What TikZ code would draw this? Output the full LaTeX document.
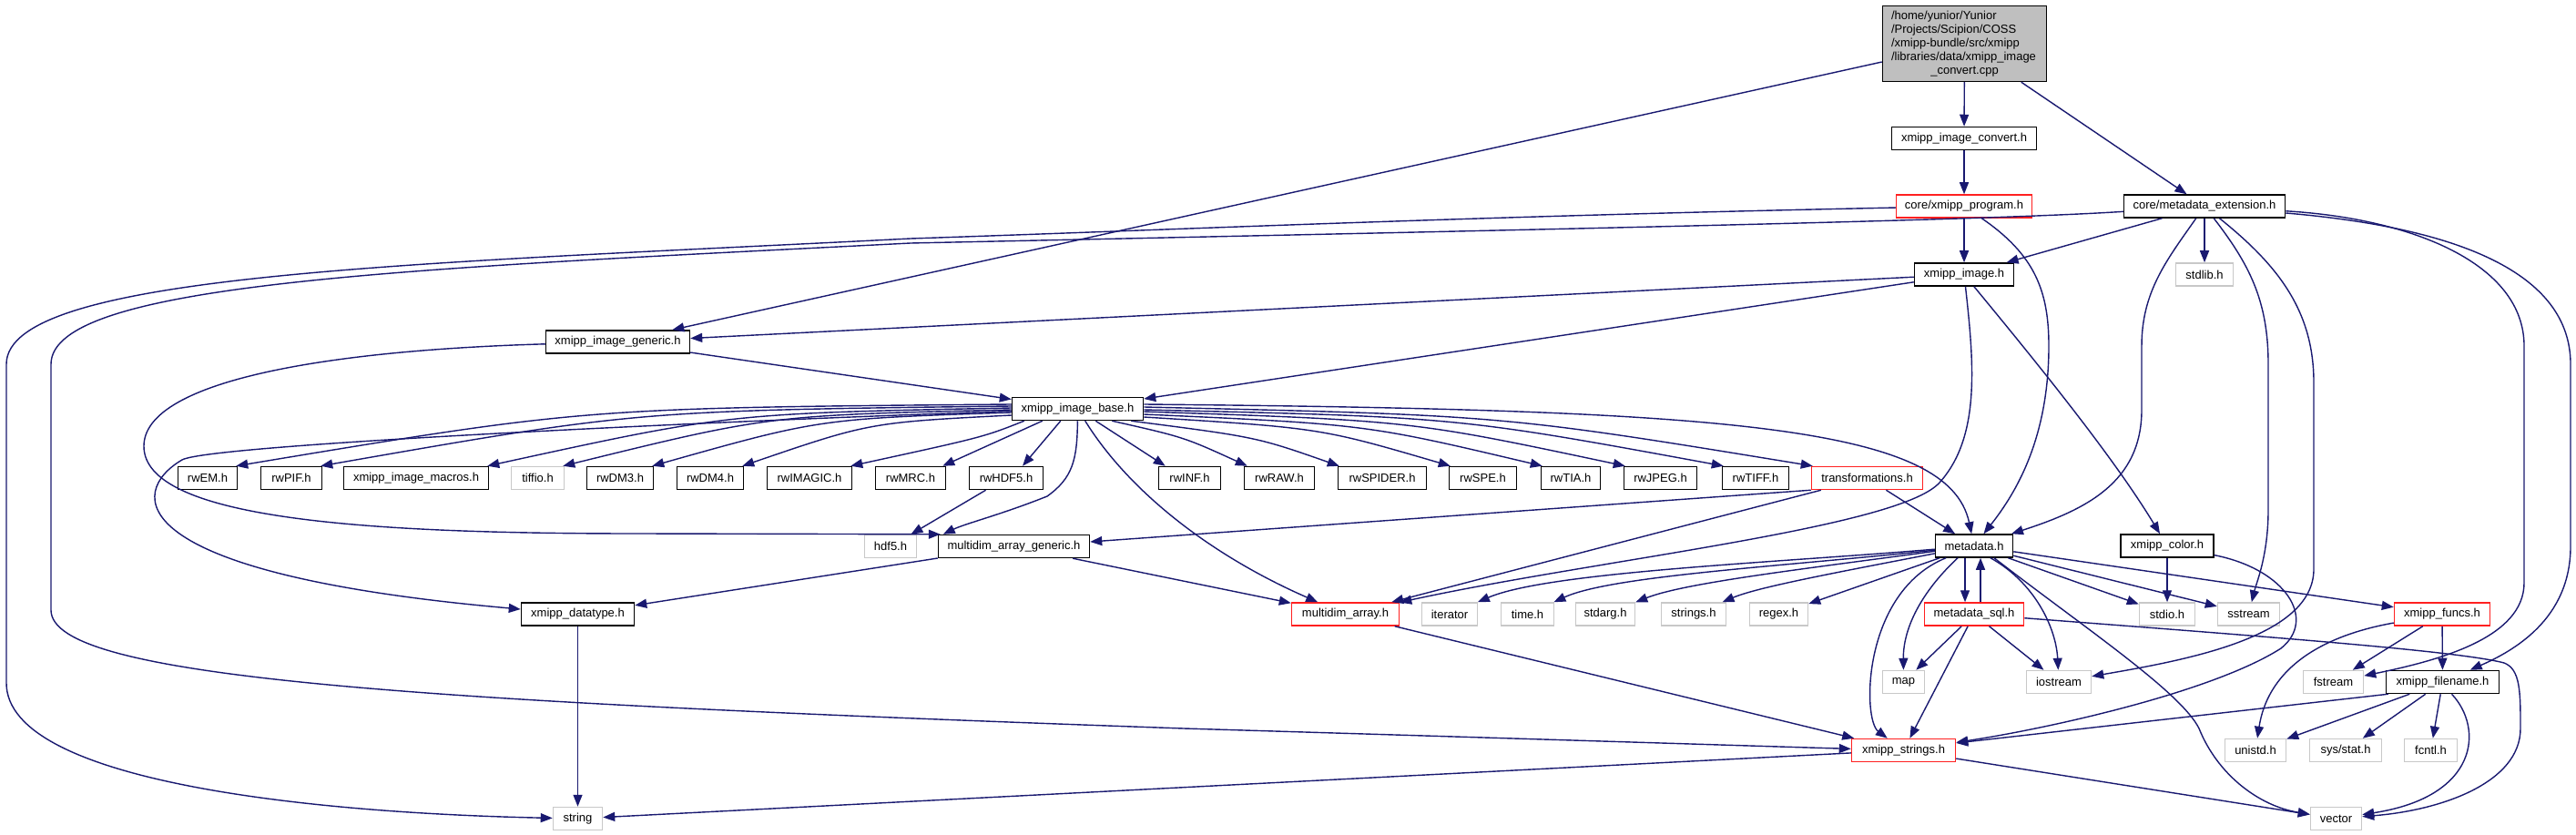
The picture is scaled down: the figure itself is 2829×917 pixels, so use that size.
\documentclass[tikz,border=0pt]{standalone}
\usepackage{fontspec}
\setmainfont{Liberation Sans}
\usetikzlibrary{arrows.meta}
\definecolor{edgeblue}{HTML}{191970}
\definecolor{lgray}{HTML}{C8C8C8}
\definecolor{topfill}{HTML}{BFBFBF}
\definecolor{redb}{HTML}{FF2020}
\tikzset{
  nodebox/.style={draw, rectangle, minimum height=25pt, inner sep=0pt, line width=1.5pt, fill=white, text=black, font=\fontsize{13}{15}\selectfont},
  nb/.style={nodebox, draw=black},
  ng/.style={nodebox, draw=lgray},
  nr/.style={nodebox, draw=redb},
  edg/.style={draw=edgeblue, line width=1.4pt, -{Triangle[length=13pt,width=10pt]}}
}
\begin{document}
\begin{tikzpicture}[x=1pt,y=-1pt]
\fill[white] (0,0) rectangle (2829,917);
\useasboundingbox (0,0) rectangle (2829,917);

% ---------- nodes ----------
\node[nb, fill=topfill, minimum width=180pt, minimum height=83pt, align=center] (top) at (2157.5,48)
 {\makebox[161pt][l]{/home/yunior/Yunior}\\\makebox[161pt][l]{/Projects/Scipion/COSS}\\\makebox[161pt][l]{/xmipp-bundle/src/xmipp}\\\makebox[161pt][l]{/libraries/data/xmipp\_image}\\\_convert.cpp};
\node[nb, minimum width=159pt] (conv) at (2157,152) {xmipp\_image\_convert.h};
\node[nr, minimum width=149pt] (prog) at (2157,226.5) {core/xmipp\_program.h};
\node[nb, minimum width=177pt] (mdext) at (2421,226.5) {core/metadata\_extension.h};
\node[nb, minimum width=109pt] (img) at (2157,301.5) {xmipp\_image.h};
\node[ng, minimum width=63pt] (stdlib) at (2421,301.5) {stdlib.h};
\node[nb, minimum width=158pt] (gen) at (678.5,375.5) {xmipp\_image\_generic.h};
\node[nb, minimum width=144pt] (base) at (1183.5,449) {xmipp\_image\_base.h};

\node[nb, minimum width=65pt] (rwEM) at (228,525) {rwEM.h};
\node[nb, minimum width=67pt] (rwPIF) at (320,525) {rwPIF.h};
\node[nb, minimum width=159pt] (macros) at (457,525) {xmipp\_image\_macros.h};
\node[ng, minimum width=58pt] (tiffio) at (590.5,525) {tiffio.h};
\node[nb, minimum width=73pt] (DM3) at (681,525) {rwDM3.h};
\node[nb, minimum width=73pt] (DM4) at (780,525) {rwDM4.h};
\node[nb, minimum width=93pt] (IMAGIC) at (889,525) {rwIMAGIC.h};
\node[nb, minimum width=77pt] (MRC) at (1000,525) {rwMRC.h};
\node[nb, minimum width=81pt] (HDF5) at (1105,525) {rwHDF5.h};
\node[nb, minimum width=68pt] (INF) at (1306.5,525) {rwINF.h};
\node[nb, minimum width=77pt] (RAW) at (1405,525) {rwRAW.h};
\node[nb, minimum width=97pt] (SPIDER) at (1518,525) {rwSPIDER.h};
\node[nb, minimum width=74pt] (SPE) at (1628.5,525) {rwSPE.h};
\node[nb, minimum width=65pt] (TIA) at (1725,525) {rwTIA.h};
\node[nb, minimum width=80pt] (JPEG) at (1823.5,525) {rwJPEG.h};
\node[nb, minimum width=73pt] (TIFF) at (1928,525) {rwTIFF.h};
\node[nr, minimum width=122pt] (trans) at (2050.5,525) {transformations.h};

\node[ng, minimum width=57pt] (hdf5) at (978,600) {hdf5.h};
\node[nb, minimum width=166pt] (mag) at (1113.5,600) {multidim\_array\_generic.h};
\node[nb, minimum width=85pt] (md) at (2168,599.5) {metadata.h};
\node[nb, minimum width=102pt] (color) at (2380,599.5) {xmipp\_color.h};

\node[nb, minimum width=124pt] (dtype) at (634.5,674.5) {xmipp\_datatype.h};
\node[nr, minimum width=118pt] (ma) at (1477.5,674.5) {multidim\_array.h};
\node[ng, minimum width=61pt] (iter) at (1592,674.5) {iterator};
\node[ng, minimum width=58pt] (time) at (1677.5,674.5) {time.h};
\node[ng, minimum width=65pt] (stdarg) at (1763,674.5) {stdarg.h};
\node[ng, minimum width=71pt] (strings) at (1860,674.5) {strings.h};
\node[ng, minimum width=64pt] (regex) at (1953.5,674.5) {regex.h};
\node[nr, minimum width=109pt] (mdsql) at (2168,674.5) {metadata\_sql.h};
\node[ng, minimum width=61pt] (stdio) at (2380,674.5) {stdio.h};
\node[ng, minimum width=68pt] (sstream) at (2469.5,674.5) {sstream};
\node[nr, minimum width=105pt] (funcs) at (2682,674.5) {xmipp\_funcs.h};

\node[ng, minimum width=46pt] (map) at (2090.5,749) {map};
\node[ng, minimum width=71pt] (iostream) at (2261,749) {iostream};
\node[ng, minimum width=66pt] (fstream) at (2562.5,749) {fstream};
\node[nb, minimum width=124pt] (fname) at (2682.5,749) {xmipp\_filename.h};

\node[nr, minimum width=114pt] (xstr) at (2090.5,824) {xmipp\_strings.h};
\node[ng, minimum width=67pt] (unistd) at (2477,824) {unistd.h};
\node[ng, minimum width=79pt] (sysstat) at (2576,824) {sys/stat.h};
\node[ng, minimum width=58pt] (fcntl) at (2669.5,824) {fcntl.h};

\node[ng, minimum width=54pt] (string) at (634.5,899) {string};
\node[ng, minimum width=56pt] (vector) at (2565.5,899) {vector};

% ---------- edges ----------
\draw[edg] (top) -- (conv);
\draw[edg] (top) -- (mdext);
\draw[edg] (top) -- (gen);
\draw[edg] (conv) -- (prog);
\draw[edg] (prog) -- (img);
\draw[edg] (prog) .. controls (2235,280) and (2250,320) .. (2250,380) .. controls (2250,480) and (2215,540) .. (md);
\draw[edg] (prog) .. controls (1600,238) and (1300,252) .. (1000,262) .. controls (450,290) and (7,300) .. (7,400) -- (7,750) .. controls (7,860) and (350,893) .. (string);

\draw[edg] (mdext) .. controls (2200,241) and (1800,250) .. (1000,267) .. controls (450,295) and (56,310) .. (56,400) -- (56,670) .. controls (56,745) and (450,770) .. (1300,800) .. controls (1700,812) and (1950,820) .. (xstr);
\draw[edg] (mdext) -- (img);
\draw[edg] (mdext) -- (stdlib);
\draw[edg] (mdext) .. controls (2380,285) and (2352,320) .. (2352,380) -- (2352,450) .. controls (2352,530) and (2290,560) .. (md);
\draw[edg] (mdext) .. controls (2470,290) and (2491,330) .. (2491,400) -- (2491,560) .. controls (2491,610) and (2478,640) .. (sstream);
\draw[edg] (mdext) .. controls (2500,290) and (2541,340) .. (2541,420) -- (2541,625) .. controls (2541,700) and (2400,725) .. (iostream);
\draw[edg] (mdext) .. controls (2650,240) and (2772,290) .. (2772,380) -- (2772,640) .. controls (2772,700) and (2680,725) .. (fstream);
\draw[edg] (mdext) .. controls (2700,250) and (2823,300) .. (2823,400) -- (2823,600) .. controls (2823,680) and (2760,715) .. (fname);

\draw[edg] (img) -- (gen);
\draw[edg] (img) -- (base);
\draw[edg] (img) .. controls (2168,400) and (2175,480) .. (2130,530) .. controls (2085,580) and (1750,615) .. (ma);
\draw[edg] (img) .. controls (2230,390) and (2320,500) .. (color);

\draw[edg] (gen) -- (base);
\draw[edg] (gen) .. controls (350,385) and (158,420) .. (158,490) .. controls (158,570) and (400,586) .. (700,586) -- ([xshift=3pt]mag.north west);

% fan from xmipp_image_base
\draw[edg] ([yshift=5pt]base.west) .. controls (643,448) .. ([xshift=-2pt]rwEM.north east);
\draw[edg] ([yshift=3pt]base.west) .. controls (700,451) .. ([xshift=-2pt]rwPIF.north east);
\draw[edg] ([yshift=1pt]base.west) .. controls (800,454) .. ([xshift=-2pt]macros.north east);
\draw[edg] ([yshift=-1pt]base.west) .. controls (845,456) .. ([xshift=-2pt]tiffio.north east);
\draw[edg] ([yshift=-4pt]base.west) .. controls (900,460) .. ([xshift=-2pt]DM3.north east);
\draw[edg] ([yshift=-7pt]base.west) .. controls (955,464) .. ([xshift=-2pt]DM4.north east);
\draw[edg] ([xshift=14pt]base.south west) .. controls (1080,480) .. ([xshift=-2pt]IMAGIC.north east);
\draw[edg] ([xshift=34pt]base.south west) -- ([xshift=-4pt]MRC.north east);
\draw[edg] ([xshift=54pt]base.south west) -- ([xshift=18pt]HDF5.north);
\draw[edg] ([xshift=-53pt]base.south east) -- ([xshift=8pt]INF.north west);
\draw[edg] ([xshift=-35pt]base.south east) .. controls (1300,480) .. ([xshift=4pt]RAW.north west);
\draw[edg] ([xshift=-14pt]base.south east) .. controls (1380,480) .. ([xshift=2pt]SPIDER.north west);
\draw[edg] ([yshift=-9pt]base.east) .. controls (1450,470) .. ([xshift=2pt]SPE.north west);
\draw[edg] ([yshift=-6pt]base.east) .. controls (1500,466) .. ([xshift=2pt]TIA.north west);
\draw[edg] ([yshift=-3pt]base.east) .. controls (1550,462) .. ([xshift=2pt]JPEG.north west);
\draw[edg] ([yshift=-1pt]base.east) .. controls (1600,458) .. ([xshift=2pt]TIFF.north west);
\draw[edg] ([yshift=2pt]base.east) .. controls (1650,456) .. ([xshift=2pt]trans.north west);
\draw[edg] ([yshift=5pt]base.east) .. controls (1900,450) and (2140,468) .. (md);
\draw[edg] (base) .. controls (1183,505) and (1178,525) .. (1150,545) .. controls (1100,565) and (1060,575) .. ([xshift=6pt]mag.north west);
\draw[edg] (base) .. controls (1240,540) and (1330,610) .. (ma);
\draw[edg] (base) .. controls (800,462) and (230,488) .. (200,505) .. controls (140,540) and (130,630) .. (dtype);

\draw[edg] (HDF5) -- (hdf5);
\draw[edg] (trans.south west) -- ([yshift=5pt]mag.east);
\draw[edg] (trans) -- (ma);
\draw[edg] (trans) -- (md);
\draw[edg] (mag) -- (dtype);
\draw[edg] (mag) -- (ma);
\draw[edg] (dtype) -- (string);
\draw[edg] (ma) -- (xstr);

% metadata.h
\draw[edg] (md) .. controls (1950,618) and (1700,628) .. (iter);
\draw[edg] (md) .. controls (1960,622) and (1770,632) .. (time);
\draw[edg] (md) .. controls (1980,625) and (1850,640) .. (stdarg);
\draw[edg] (md) .. controls (2010,630) and (1930,645) .. (strings);
\draw[edg] (md) -- (regex);
\draw[edg] ([xshift=-10pt]md.south) -- ([xshift=-10pt]mdsql.north);
\draw[edg] ([xshift=7pt]mdsql.north) -- ([xshift=7pt]md.south);
\draw[edg] ([xshift=-18pt]md.south) .. controls (2110,650) and (2090,690) .. (map);
\draw[edg] ([xshift=-31pt]md.south) .. controls (2045,650) and (2045,790) .. (xstr);
\draw[edg] ([xshift=18pt]md.south) .. controls (2235,640) and (2258,690) .. (iostream);
\draw[edg] ([xshift=22pt]md.south) .. controls (2290,690) and (2395,760) .. (2415,800) .. controls (2435,850) and (2480,885) .. (vector);
\draw[edg] (md) -- (stdio);
\draw[edg] (md) -- (sstream);
\draw[edg] (md) -- (funcs);

% metadata_sql.h
\draw[edg] (mdsql) -- (map);
\draw[edg] (mdsql) -- (xstr);
\draw[edg] (mdsql) -- (iostream);
\draw[edg] (mdsql) .. controls (2500,700) and (2700,715) .. (2750,728) .. controls (2768,735) and (2768,760) .. (2768,800) .. controls (2768,860) and (2680,890) .. (vector);

% xmipp_color.h
\draw[edg] (color) -- (stdio);
\draw[edg] (color) .. controls (2510,625) and (2545,680) .. (2505,712) .. controls (2430,760) and (2250,800) .. (xstr);

% xmipp_funcs.h
\draw[edg] (funcs) .. controls (2540,700) and (2490,740) .. (unistd);
\draw[edg] (funcs) -- (fstream);
\draw[edg] (funcs) -- (fname);

% xmipp_filename.h
\draw[edg] ([xshift=3pt]fname.south west) -- ([yshift=8pt]xstr.east);
\draw[edg] (fname) -- (unistd);
\draw[edg] (fname) -- (sysstat);
\draw[edg] (fname) -- (fcntl);
\draw[edg] ([xshift=10pt]fname.south) .. controls (2728,800) and (2722,875) .. (vector);

% xmipp_strings.h
\draw[edg] (xstr) -- (string);
\draw[edg] (xstr) -- (vector);
\end{tikzpicture}
\end{document}
